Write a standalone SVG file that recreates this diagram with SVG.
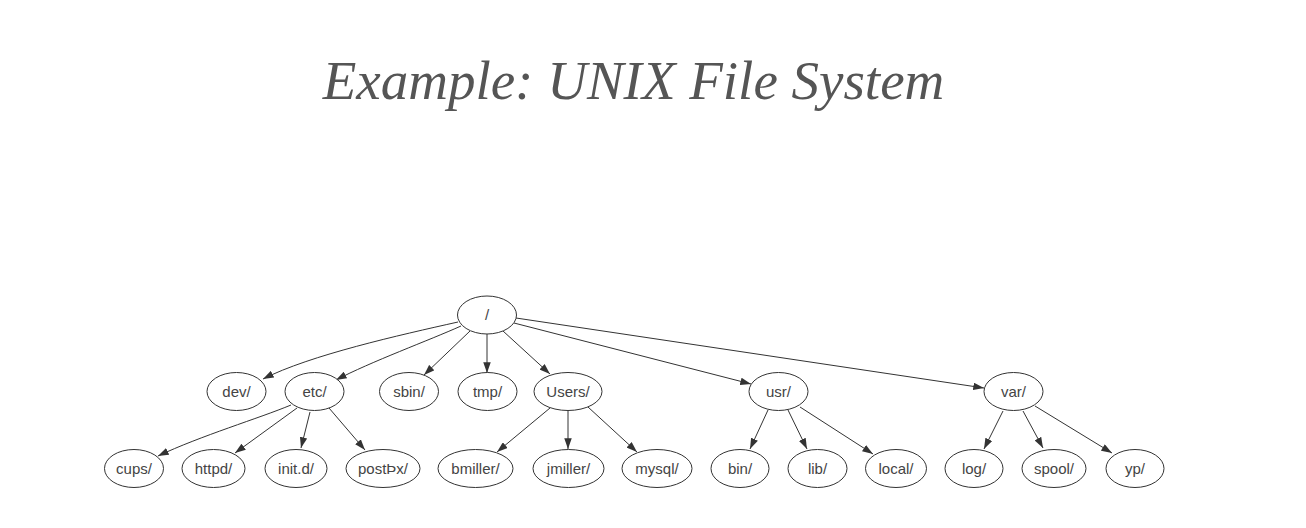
<svg xmlns="http://www.w3.org/2000/svg" width="1306" height="528" viewBox="0 0 1306 528">
<style>
.n ellipse{fill:#fff;stroke:#333;stroke-width:1}
.n text{font-family:"Liberation Sans",Arial,sans-serif;font-size:15px;fill:#444;text-anchor:middle}
#edges path{fill:none;stroke:#333;stroke-width:1;marker-end:url(#ah)}
.title{font-family:"Liberation Serif","Times New Roman",serif;font-style:italic;font-size:55px;fill:#555;text-anchor:middle}
</style>
<defs>
<marker id="ah" viewBox="0 0 10 7" refX="10" refY="3.5" markerWidth="11" markerHeight="7.5" orient="auto" markerUnits="userSpaceOnUse">
<path d="M0,0 L10,3.5 L0,7 z" fill="#333"/>
</marker>
</defs>
<rect width="1306" height="528" fill="#fff"/>
<text class="title" x="633.5" y="99">Example: UNIX File System</text>
<g id="edges">
<path d="M458,322 C400,335 310,355 263,379"/>
<path d="M461,326 C430,340 370,362 336,380"/>
<path d="M470,331 L424,375"/>
<path d="M487,334 L487,373"/>
<path d="M503,331 L550,374"/>
<path d="M514,323 L751,384"/>
<path d="M516,318 L984,388"/>
<path d="M291,405 C260,418 200,436 158,456"/>
<path d="M297,408 L235,453"/>
<path d="M310,412 L301,448"/>
<path d="M329,408 L365,450"/>
<path d="M550,408 L497,452"/>
<path d="M568,411 L568,449"/>
<path d="M588,407 L637,452"/>
<path d="M768,410 L750,449"/>
<path d="M788,410 L807,449"/>
<path d="M800,407 L873,454"/>
<path d="M1003,411 L984,449"/>
<path d="M1023,411 L1043,448"/>
<path d="M1035,406 L1112,453"/>
</g>
<g id="root" class="n"><ellipse cx="487" cy="315" rx="29.5" ry="19"/><text x="487" y="320">/</text></g>
<g id="dev" class="n"><ellipse cx="236.5" cy="391.5" rx="29.5" ry="19"/><text x="236.5" y="397">dev/</text></g>
<g id="etc" class="n"><ellipse cx="314.5" cy="391.5" rx="29.5" ry="19"/><text x="314.5" y="397">etc/</text></g>
<g id="sbin" class="n"><ellipse cx="409" cy="391.5" rx="29.5" ry="19"/><text x="409" y="397">sbin/</text></g>
<g id="tmp" class="n"><ellipse cx="487.5" cy="391.5" rx="29.5" ry="19"/><text x="487.5" y="397">tmp/</text></g>
<g id="Users" class="n"><ellipse cx="568" cy="391.5" rx="34" ry="19"/><text x="568" y="397">Users/</text></g>
<g id="usr" class="n"><ellipse cx="778.5" cy="391.5" rx="29.5" ry="19"/><text x="778.5" y="397">usr/</text></g>
<g id="var" class="n"><ellipse cx="1013.5" cy="391.5" rx="29.5" ry="19"/><text x="1013.5" y="397">var/</text></g>
<g id="cups" class="n"><ellipse cx="134" cy="468.5" rx="29.5" ry="19"/><text x="134" y="474">cups/</text></g>
<g id="httpd" class="n"><ellipse cx="213.5" cy="468.5" rx="31.5" ry="19"/><text x="213.5" y="474">httpd/</text></g>
<g id="initd" class="n"><ellipse cx="296" cy="468.5" rx="31" ry="19"/><text x="296" y="474">init.d/</text></g>
<g id="postfix" class="n"><ellipse cx="383" cy="468.5" rx="37" ry="19"/><text x="383" y="474">postÞx/</text></g>
<g id="bmiller" class="n"><ellipse cx="475.5" cy="468.5" rx="37.5" ry="19"/><text x="475.5" y="474">bmiller/</text></g>
<g id="jmiller" class="n"><ellipse cx="568.5" cy="468.5" rx="35.5" ry="19"/><text x="568.5" y="474">jmiller/</text></g>
<g id="mysql" class="n"><ellipse cx="657" cy="468.5" rx="35" ry="19"/><text x="657" y="474">mysql/</text></g>
<g id="bin" class="n"><ellipse cx="740" cy="468.5" rx="29" ry="19"/><text x="740" y="474">bin/</text></g>
<g id="lib" class="n"><ellipse cx="817.5" cy="468.5" rx="29.5" ry="19"/><text x="817.5" y="474">lib/</text></g>
<g id="local" class="n"><ellipse cx="896" cy="468.5" rx="30.5" ry="19"/><text x="896" y="474">local/</text></g>
<g id="log" class="n"><ellipse cx="974" cy="468.5" rx="29" ry="19"/><text x="974" y="474">log/</text></g>
<g id="spool" class="n"><ellipse cx="1054" cy="468.5" rx="32" ry="19"/><text x="1054" y="474">spool/</text></g>
<g id="yp" class="n"><ellipse cx="1135" cy="468.5" rx="29" ry="19"/><text x="1135" y="474">yp/</text></g>
</svg>
